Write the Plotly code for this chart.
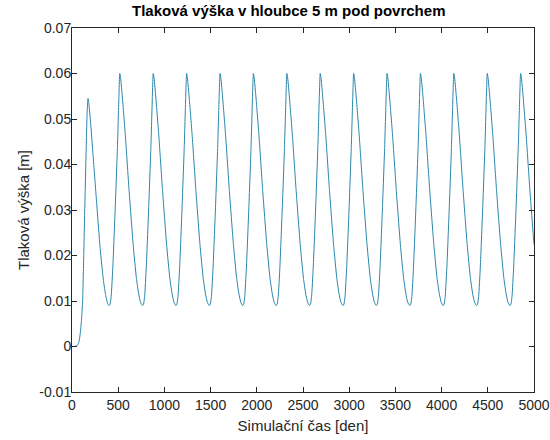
import plotly.graph_objects as go

# --- data ---
# initial build-up and first (lower) peak
start_days = [0, 30, 60, 75, 90, 105, 115, 127, 140, 152, 163, 173,
              181, 200, 228, 265, 305, 340, 365, 385]
start_head = [0.0, 0.0, 0.0003, 0.001, 0.003, 0.0065, 0.010, 0.020, 0.032, 0.042, 0.051, 0.0545,
              0.0537, 0.0495, 0.0420, 0.0320, 0.0215, 0.0145, 0.0112, 0.0095]

# days of the annual peaks (0.06 m)
peak_days = [517, 879, 1240, 1602, 1963, 2325, 2686, 3048, 3409, 3771, 4132, 4494, 4855]

# one yearly cycle, read relative to its peak day
rise_offset = [-116, -105, -93, -75, -50, -25, -10, -3, 0]
rise_head = [0.0090, 0.0093, 0.0110, 0.0175, 0.0300, 0.0440, 0.0545, 0.0590, 0.0600]
fall_offset = [8, 25, 60, 100, 145, 180, 205, 225]
fall_head = [0.0592, 0.0555, 0.0465, 0.0345, 0.0224, 0.0150, 0.0115, 0.0097]

x_ticks = [0, 500, 1000, 1500, 2000, 2500, 3000, 3500, 4000, 4500, 5000]
y_ticks = [-0.01, 0, 0.01, 0.02, 0.03, 0.04, 0.05, 0.06, 0.07]
y_tick_text = ["-0.01", "0", "0.01", "0.02", "0.03", "0.04", "0.05", "0.06", "0.07"]

t_end = 5000

days = list(start_days)
head = list(start_head)
for p in peak_days:
    for o, v in zip(rise_offset, rise_head):
        days.append(p + o)
        head.append(v)
    for o, v in zip(fall_offset, fall_head):
        if p + o <= t_end:
            days.append(p + o)
            head.append(v)

FONT = "Liberation Sans, Arial, sans-serif"

fig = go.Figure()
fig.add_trace(go.Scatter(
    x=days, y=head, mode="lines",
    line=dict(color="#2a86ad", width=1, shape="spline", smoothing=0.5),
    showlegend=False, hoverinfo="skip"))

axis_common = dict(
    showline=True, linecolor="#262626", linewidth=1, mirror="ticks",
    ticks="inside", ticklen=5, tickcolor="#262626", tickwidth=1,
    showgrid=False, zeroline=False, automargin=False,
    tickfont=dict(family=FONT, size=14, color="#262626"),
)

fig.update_layout(
    width=550, height=440,
    margin=dict(l=72, r=16, t=28, b=48),
    paper_bgcolor="white", plot_bgcolor="white",
    title=dict(text="<b>Tlaková výška v hloubce 5 m pod povrchem</b>",
               x=0.525, xanchor="center", y=0.988, yanchor="top",
               font=dict(family=FONT, size=15, color="#000000")),
    xaxis=dict(range=[0, 5000], tickvals=x_ticks,
               title=dict(text="Simulační čas [den]", standoff=8,
                          font=dict(family=FONT, size=15, color="#262626")),
               **axis_common),
    yaxis=dict(range=[-0.01, 0.07], tickvals=y_ticks, ticktext=y_tick_text,
               ticklabelstandoff=-3,
               title=dict(text="Tlaková výška [m]", standoff=6,
                          font=dict(family=FONT, size=15, color="#262626")),
               **axis_common),
)

fig.write_html("out.html")
